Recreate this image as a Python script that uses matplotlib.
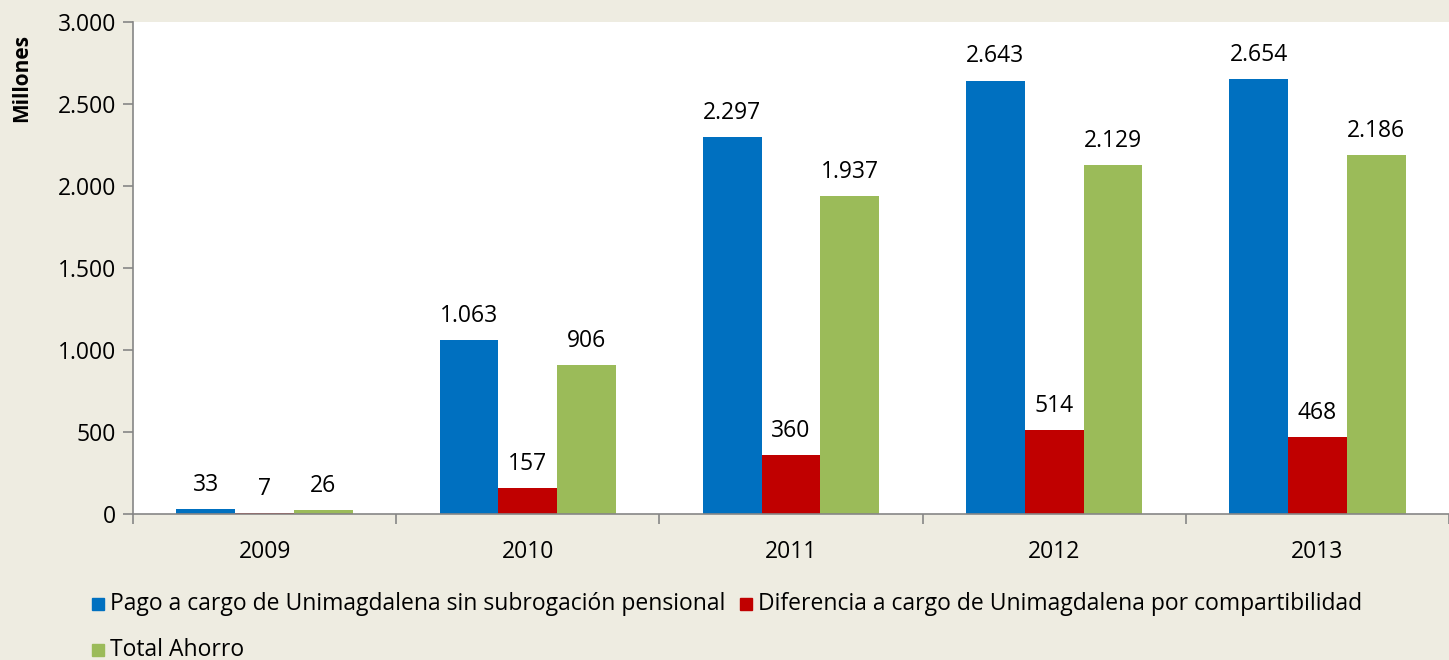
import matplotlib
matplotlib.use("Agg")
import matplotlib.pyplot as plt
import numpy as np
from matplotlib.patches import Rectangle

years = ["2009", "2010", "2011", "2012", "2013"]
pago = [33, 1063, 2297, 2643, 2654]
diferencia = [7, 157, 360, 514, 468]
ahorro = [26, 906, 1937, 2129, 2186]
series_names = [
    "Pago a cargo de Unimagdalena sin subrogación pensional",
    "Diferencia a cargo de Unimagdalena por compartibilidad",
    "Total Ahorro",
]
colors = ["#0070C0", "#C00000", "#9BBB59"]
y_ticks = [0, 500, 1000, 1500, 2000, 2500, 3000]

BG = "#EEECE1"
AXIS = "#868686"
FONT = ["Open Sans", "DejaVu Sans"]
FS = 16.5

plt.rcParams["font.family"] = FONT

fig = plt.figure(figsize=(14.49, 6.60), dpi=100, facecolor=BG)
ax = fig.add_axes([133 / 1449, 1 - 514 / 660, (1449 - 133) / 1449, (514 - 22) / 660])
ax.set_facecolor("white")

x = np.arange(len(years))
w = 59 / 264
for i, (vals, c) in enumerate(zip([pago, diferencia, ahorro], colors)):
    pos = x + (i - 1) * w
    ax.bar(pos, vals, width=w, color=c, label=series_names[i], zorder=2)
    for p, v in zip(pos, vals):
        ax.annotate(f"{v:,}".replace(",", "."), (p, v), xytext=(0, 13),
                    textcoords="offset points", ha="center", va="baseline",
                    fontsize=FS, color="black")

ax.set_xlim(-0.5, len(years) - 0.5)
ax.set_ylim(0, 3000)
ax.set_yticks(y_ticks)
ax.set_yticklabels([f"{t:,}".replace(",", ".") for t in y_ticks], fontsize=FS)
ax.set_xticks(x)
ax.set_xticklabels(years, fontsize=FS)
ax.set_xticks(np.arange(len(years) + 1) - 0.5, minor=True)
ax.tick_params(axis="x", which="major", length=0, pad=19)
ax.tick_params(axis="x", which="minor", length=7, color=AXIS, width=1.2)
ax.tick_params(axis="y", length=7, color=AXIS, width=1.2, pad=5)

for s in ["top", "right"]:
    ax.spines[s].set_visible(False)
for s in ["left", "bottom"]:
    ax.spines[s].set_color(AXIS)
    ax.spines[s].set_linewidth(1.2)

fig.text(22 / 1449, 1 - 78 / 660, "Millones", rotation=90, ha="center", va="center",
         fontsize=15, fontweight="bold")

# legend drawn as two rows below the axis
legend_rows = [
    [(92, 604, 0), (740, 604, 1)],
    [(92, 650, 2)],
]
for row in legend_rows:
    for px, py, k in row:
        fig.patches.append(Rectangle((px / 1449, 1 - (py + 6) / 660), 12 / 1449, 12 / 660,
                                     transform=fig.transFigure, color=colors[k]))
        fig.text((px + 18) / 1449, 1 - py / 660, series_names[k], ha="left", va="center",
                 fontsize=FS)

fig.savefig("out.png", dpi=100, facecolor=BG)
